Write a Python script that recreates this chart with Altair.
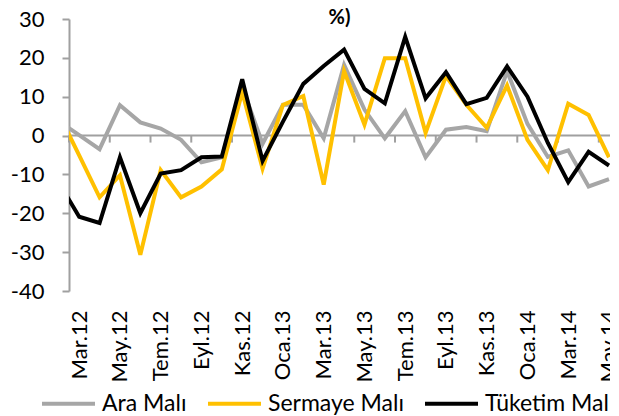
import altair as alt
import pandas as pd

months = ["Şub.12", "Mar.12", "Nis.12", "May.12", "Haz.12", "Tem.12", "Ağu.12", "Eyl.12",
          "Eki.12", "Kas.12", "Ara.12", "Oca.13", "Şub.13", "Mar.13", "Nis.13", "May.13",
          "Haz.13", "Tem.13", "Ağu.13", "Eyl.13", "Eki.13", "Kas.13", "Ara.13", "Oca.14",
          "Şub.14", "Mar.14", "Nis.14", "May.14"]

ara_mali = [3.7, 0.1, -3.5, 7.8, 3.4, 1.8, -1.1, -6.9, -5.6, 12.5, -2.1, 7.9, 7.9, -0.7,
            18.2, 6.7, -0.7, 6.3, -5.6, 1.5, 2.2, 1.1, 16.6, 3.0, -5.5, -3.8, -13.1, -11.2]
sermaye_mali = [5.6, -5.1, -15.9, -10.2, -30.7, -8.9, -15.9, -13.1, -8.7, 11.2, -8.5, 7.9,
                10.2, -12.6, 16.6, 2.8, 19.9, 19.9, 0.7, 15.3, 7.9, 2.0, 12.9, -1.1, -8.9,
                8.2, 5.3, -5.6]
tuketim_mali = [-12.1, -20.9, -22.5, -5.6, -20.0, -9.8, -8.9, -5.6, -5.4, 14.5, -6.5, 3.6,
                13.3, 17.9, 22.1, 12.0, 8.3, 25.4, 9.6, 16.3, 8.1, 9.7, 17.8, 10.0, -1.9,
                -12.0, -4.2, -7.7]

series_names = ["Ara Malı", "Sermaye Malı", "Tüketim Malı"]
series_colors = ["#A6A6A6", "#FFC000", "#000000"]
y_ticks = [-40, -30, -20, -10, 0, 10, 20, 30]

rows = []
for name, vals in zip(series_names, [ara_mali, sermaye_mali, tuketim_mali]):
    for i, (m, v) in enumerate(zip(months, vals)):
        rows.append({"idx": i, "ay": m, "seri": name, "deger": v})
df = pd.DataFrame(rows)

label_idx = list(range(1, len(months), 2))
tick_pos = [i + 0.5 for i in range(0, len(months) - 1, 2)]
label_expr = "[" + ",".join("'" + m + "'" for m in months) + "][datum.value]"

FONT = "Lato"
AXIS_GRAY = "#A0A0A0"

xscale = alt.Scale(domain=[0.5, 27.05], nice=False, zero=False)
yscale = alt.Scale(domain=[-40, 30], nice=False)

xaxis = alt.Axis(values=label_idx, labelExpr=label_expr, labelAngle=-90,
                 ticks=False, domain=False, grid=False, title=None,
                 labelOverlap=False, labelBound=False, labelFlush=False,
                 labelFontSize=22, labelFont=FONT, labelColor="black",
                 labelPadding=19)
yaxis = alt.Axis(values=y_ticks, tickCount=len(y_ticks), grid=False, title=None,
                 labelExpr="'' + datum.value",
                 labelOverlap=False, labelBound=False, labelFlush=False,
                 domainColor=AXIS_GRAY, domainWidth=2,
                 tickColor=AXIS_GRAY, tickWidth=2, tickSize=7,
                 labelFontSize=22, labelFont=FONT, labelColor="black",
                 labelPadding=18)

zero_line = alt.Chart(pd.DataFrame({"deger": [0]})).mark_rule(
    color=AXIS_GRAY, strokeWidth=2
).encode(y=alt.Y("deger:Q", scale=yscale, axis=yaxis))

ticks = alt.Chart(pd.DataFrame({"idx": tick_pos, "deger": [0] * len(tick_pos)})).mark_rule(
    color=AXIS_GRAY, strokeWidth=2, y2Offset=7
).encode(
    x=alt.X("idx:Q", scale=xscale, axis=xaxis),
    y=alt.Y("deger:Q", scale=yscale, axis=yaxis),
    y2="deger:Q",
)

lines = alt.Chart(df).mark_line(strokeWidth=4, clip=True).encode(
    x=alt.X("idx:Q", scale=xscale, axis=xaxis),
    y=alt.Y("deger:Q", scale=yscale, axis=yaxis),
    color=alt.Color("seri:N", scale=alt.Scale(domain=series_names, range=series_colors),
                    legend=alt.Legend(orient="none", legendX=-29, legendY=356,
                                      direction="horizontal", title=None,
                                      symbolType="stroke", symbolSize=2809,
                                      symbolStrokeWidth=4, labelFontSize=23,
                                      labelFont=FONT, labelColor="black",
                                      labelOffset=5, columnPadding=13, labelLimit=300)),
)

chart = alt.layer(zero_line, ticks, lines).properties(
    width=541,
    height=272,
    autosize=alt.AutoSizeParams(type="none"),
    padding={"left": 61, "top": 11, "right": 0, "bottom": 125},
    title=alt.TitleParams("%)", fontSize=20, font=FONT, fontWeight="bold",
                          anchor="middle", offset=-20, color="black"),
).configure_view(strokeWidth=0)

chart.save("out.html", embed_options={"renderer": "svg", "actions": False})
